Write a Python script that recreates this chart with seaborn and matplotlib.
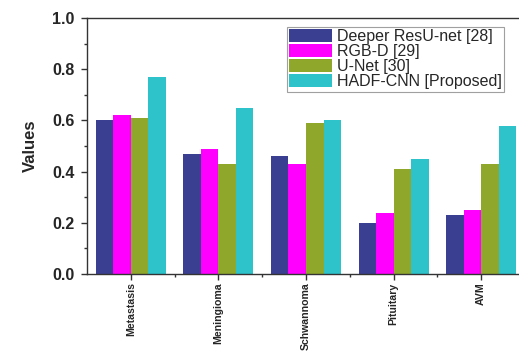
import matplotlib
matplotlib.use('Agg')

import pandas as pd
import matplotlib.pyplot as plt
import seaborn as sns
from matplotlib.ticker import MultipleLocator, FixedLocator

# Chart data
categories = ['Metastasis', 'Meningioma', 'Schwannoma', 'Pituitary', 'AVM']
methods = ['Deeper ResU-net [28]', 'RGB-D [29]', 'U-Net [30]', 'HADF-CNN [Proposed]']
deeper_resunet = [0.60, 0.47, 0.46, 0.20, 0.23]
rgb_d = [0.62, 0.49, 0.43, 0.24, 0.25]
u_net = [0.61, 0.43, 0.59, 0.41, 0.43]
hadf_cnn = [0.77, 0.65, 0.60, 0.45, 0.58]
colors = ['#3b3f92', '#ff00ff', '#8fa82c', '#2ec3cb']

rows = []
for method, vals in zip(methods, [deeper_resunet, rgb_d, u_net, hadf_cnn]):
    for cat, v in zip(categories, vals):
        rows.append({'Category': cat, 'Method': method, 'Value': v})
df = pd.DataFrame(rows)

sns.set_style('ticks')
plt.rcParams['font.family'] = ['Liberation Sans', 'DejaVu Sans']

fig = plt.figure(figsize=(5.19, 3.51), dpi=100)
ax = fig.add_axes([87 / 519, 77 / 351, 438 / 519, 256 / 351])

sns.barplot(data=df, x='Category', y='Value', hue='Method', hue_order=methods,
            palette=colors, width=0.8, saturation=1, linewidth=0, ax=ax)

ax.set_xlim(-0.5, 4.5)
ax.set_ylim(0, 1.0)
ax.yaxis.set_minor_locator(MultipleLocator(0.1))
ax.xaxis.set_minor_locator(FixedLocator([0.5, 1.5, 2.5, 3.5]))
ax.set_yticks([0.0, 0.2, 0.4, 0.6, 0.8, 1.0])
ax.set_yticklabels(['0.0', '0.2', '0.4', '0.6', '0.8', '1.0'],
                   fontsize=11.5, fontweight='bold')
ax.set_xticks(range(len(categories)))
ax.set_xticklabels(categories, rotation=90, fontsize=7.6, fontweight='bold')
ax.tick_params(axis='both', which='major', direction='out', length=4, width=1, color='#333333')
ax.tick_params(axis='both', which='minor', direction='out', length=2.5, width=1, color='#333333')
ax.tick_params(axis='y', pad=5)
ax.tick_params(axis='x', pad=2)

for side in ['left', 'bottom', 'top', 'right']:
    ax.spines[side].set_visible(True)
    ax.spines[side].set_color('#333333')
    ax.spines[side].set_linewidth(1.0)

ax.set_xlabel('')
ax.set_ylabel('Values', fontsize=12, fontweight='bold', labelpad=10)

leg = ax.legend(loc='upper left', bbox_to_anchor=(0.456, 0.965), fontsize=11.5,
                frameon=True, fancybox=False, edgecolor='#888888',
                handlelength=2.7, handleheight=0.85, handletextpad=0.3,
                labelspacing=0.0, borderpad=0.15, borderaxespad=0)
leg.get_frame().set_linewidth(0.8)

plt.savefig('out.png', dpi=100)
